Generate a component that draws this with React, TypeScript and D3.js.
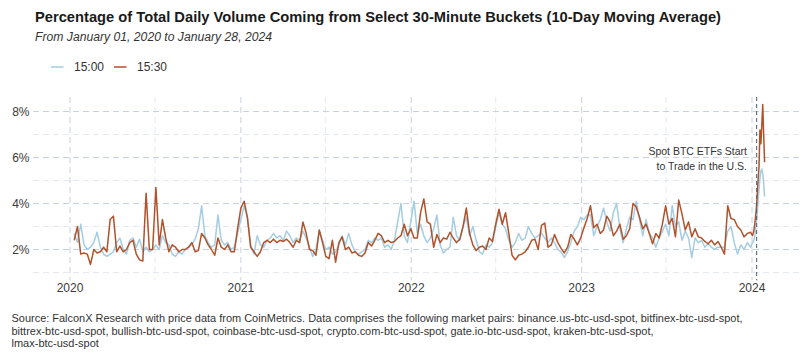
import { useRef, useEffect } from "react";
import * as d3 from "d3";

// weekly samples of the 10-day MA, starting 2020-01-10
const WEEK_START = "2020-01-10";
const WEEK_STEP = 7;

const share1500 = [
  2.7, 2.3, 3.1, 2.2, 2.0, 2.1, 2.3, 2.75, 2.1, 1.8, 1.7, 1.8, 1.9, 2.3, 2.5, 2.0, 1.8, 2.4, 2.5, 2.1, 2.45, 1.9, 2.1, 1.9, 2.0, 2.2, 2.0, 2.6, 2.3, 2.2, 1.8, 1.7, 1.9, 1.8, 2.0, 2.1,
  2.2, 2.45, 2.9, 3.9, 2.6, 2.3, 2.1, 2.2, 3.5, 2.4, 2.2, 2.3, 2.0, 2.1, 2.7, 3.3, 3.9, 3.4, 2.2, 1.8, 2.6, 2.2, 2.1, 2.4, 2.5, 2.7, 2.5, 2.6, 2.4, 2.8, 2.6, 2.3, 2.5, 2.4, 2.8,
  2.5, 2.1, 1.7, 2.0, 2.8, 2.4, 2.0, 2.1, 1.8, 1.9, 2.2, 2.6, 2.2, 2.7, 2.2, 1.9, 1.8, 1.9, 2.0, 2.4, 2.3, 2.5, 2.4, 2.5, 2.1, 2.2, 2.0, 2.4, 3.2, 4.0, 2.6, 2.3, 3.2, 4.1, 2.7,
  3.1, 2.6, 2.3, 2.5, 2.9, 3.5, 2.2, 1.85, 2.0, 2.1, 3.4, 2.6, 2.4, 3.0, 3.4, 2.6, 3.0, 2.4, 1.9, 1.8, 2.2, 2.1, 2.3, 3.0, 3.6, 3.1, 2.9, 2.4, 2.1, 2.3, 2.7, 2.4, 2.5, 3.0, 2.7, 2.5,
  2.6, 2.7, 2.5, 2.3, 2.5, 2.3, 2.0, 1.9, 1.65, 1.9, 2.3, 2.8, 3.0, 3.4, 3.3, 3.5, 3.5, 2.6, 3.0, 3.3, 3.8, 3.2, 2.8, 3.6, 4.0, 2.9, 2.3, 2.9, 3.4, 3.3, 4.1, 3.3, 2.6,
  3.3, 2.7, 2.5, 2.1, 2.5, 2.8, 3.1, 2.6, 3.9, 3.0, 3.2, 2.4, 2.8, 2.5, 1.65, 2.5, 2.3, 2.4, 2.1, 2.25, 2.1, 2.0, 2.1, 2.1, 2.1, 2.8, 3.0, 2.3, 1.8, 2.2, 2.0, 2.3, 2.1,
];

const share1530 = [
  2.4, 3.0, 1.8, 1.85, 1.8, 1.35, 2.0, 1.85, 1.9, 2.1, 1.9, 3.3, 3.45, 1.9, 2.15, 1.9, 2.0, 2.3, 2.4, 1.8, 1.55, 1.5, 4.45, 2.0, 2.0, 4.7, 2.2, 3.3, 2.5, 1.9, 2.2, 2.1, 1.9, 2.0, 2.0, 2.1,
  2.3, 1.9, 1.95, 2.7, 2.5, 2.2, 2.0, 1.75, 2.5, 2.1, 2.0, 2.2, 1.9, 1.9, 2.9, 3.8, 4.1, 3.4, 2.1, 1.9, 1.7, 1.9, 2.3, 2.4, 2.3, 2.45, 2.3, 2.4, 2.35, 2.45, 2.3, 2.1, 2.4, 2.3, 3.2,
  2.7, 2.0, 1.95, 1.75, 2.85, 2.3, 1.7, 1.6, 2.4, 1.45, 2.3, 2.55, 2.0, 2.1, 1.85, 1.9, 1.75, 1.7, 1.85, 2.3, 2.15, 2.4, 2.7, 2.6, 2.3, 2.4, 2.3, 2.35, 2.5, 2.6, 3.1, 2.6, 2.9, 2.5, 2.5,
  3.6, 4.2, 3.2, 3.1, 2.1, 2.65, 2.3, 2.5, 2.45, 2.75, 2.5, 2.3, 2.45, 3.0, 3.8, 2.7, 2.2, 1.95, 2.1, 2.15, 2.0, 2.5, 2.35, 3.1, 3.75, 3.1, 3.6, 2.7, 1.75, 1.55, 1.75, 1.8, 1.9, 2.1, 2.4, 2.45,
  2.0, 3.05, 3.15, 2.1, 2.2, 2.65, 2.3, 2.05, 1.85, 2.1, 2.65, 2.45, 2.2, 2.5, 2.95, 3.35, 3.9, 2.95, 3.1, 2.7, 2.85, 3.45, 3.2, 2.6, 2.8, 3.1, 2.45, 2.6, 2.9, 4.0, 3.85, 3.4, 2.9,
  3.1, 2.7, 2.25, 2.7, 2.5, 3.1, 3.9, 3.1, 3.35, 2.55, 4.15, 3.55, 2.85, 3.2, 2.55, 2.9, 2.55, 2.5, 2.35, 2.25, 2.4, 2.2, 2.35, 2.1, 1.8, 3.9, 3.35, 3.3, 3.0, 2.85, 2.55, 2.7, 2.75,
];

// January 2024, sampled more closely around the ETF launch
const janDays = ["2024-01-02", "2024-01-05", "2024-01-08", "2024-01-10", "2024-01-12", "2024-01-14", "2024-01-16", "2024-01-18", "2024-01-20", "2024-01-22", "2024-01-24", "2024-01-26", "2024-01-28"];
const jan1500 = [2.3, 2.4, 2.7, 3.1, 3.5, 4.1, 4.6, 5.1, 5.4, 5.5, 5.3, 4.9, 4.3];
const jan1530 = [2.6, 2.8, 3.3, 3.7, 4.3, 5.0, 5.6, 7.2, 6.6, 7.4, 8.3, 7.0, 5.8];

const yearTicks = ["2020", "2021", "2022", "2023", "2024"];
const midYears = ["2020-07-01", "2021-07-01", "2022-07-01", "2023-07-01"];
const pctTicks = [2, 4, 6, 8];
const minorPct = [1, 3, 5, 7];
const etfDate = "2024-01-11";
const etfNote = ["Spot BTC ETFs Start", "to Trade in the U.S."];
const seriesNames = ["15:00", "15:30"];
const colors = ["#a5cde2", "#b0522b"];

const title = "Percentage of Total Daily Volume Coming from Select 30-Minute Buckets (10-Day Moving Average)";
const subtitle = "From January 01, 2020 to January 28, 2024";
const sourceLines = [
  "Source: FalconX Research with price data from CoinMetrics. Data comprises the following market pairs: binance.us-btc-usd-spot, bitfinex-btc-usd-spot,",
  "bittrex-btc-usd-spot, bullish-btc-usd-spot, coinbase-btc-usd-spot, crypto.com-btc-usd-spot, gate.io-btc-usd-spot, kraken-btc-usd-spot,",
  "lmax-btc-usd-spot",
];

const FONT = "'Liberation Sans', Arial, sans-serif";
const utc = (s: string) => new Date(s + "T00:00:00Z");

interface Pt { d: Date; v: number; }
const buildSeries = (weekly: number[], janVals: number[]): Pt[] => [
  ...weekly.map((v, i) => ({ d: d3.utcDay.offset(utc(WEEK_START), i * WEEK_STEP), v })),
  ...janDays.map((d, i) => ({ d: utc(d), v: janVals[i] })),
];

export default function App() {
  const ref = useRef<SVGSVGElement>(null);

  useEffect(() => {
    if (!ref.current) return;
    const svg = d3.select(ref.current); svg.selectAll("*").remove();
    const x = d3.scaleUtc().domain([utc("2020-01-01"), utc("2024-01-01")]).range([70, 752]);
    const y = d3.scaleLinear().domain([2, 8]).range([249.5, 111.5]);
    const left = 33, right = 800, top = y(8.63), bottom = y(0.66);

    const grid = svg.append("g").attr("fill", "none");
    minorPct.forEach(p => grid.append("line").attr("x1", left).attr("x2", right).attr("y1", y(p)).attr("y2", y(p))
      .attr("stroke", "#e4e9f0").attr("stroke-dasharray", "6,4"));
    midYears.forEach(m => grid.append("line").attr("x1", x(utc(m))).attr("x2", x(utc(m))).attr("y1", top).attr("y2", bottom)
      .attr("stroke", "#e4e9f0").attr("stroke-dasharray", "6,4"));
    pctTicks.forEach(p => grid.append("line").attr("x1", left).attr("x2", right).attr("y1", y(p)).attr("y2", y(p))
      .attr("stroke", "#c8d2de").attr("stroke-dasharray", "6,4"));
    yearTicks.forEach(t => grid.append("line").attr("x1", x(utc(t + "-01-01"))).attr("x2", x(utc(t + "-01-01"))).attr("y1", top).attr("y2", bottom)
      .attr("stroke", "#c8d2de").attr("stroke-dasharray", "6,4"));

    svg.selectAll(".yl").data(pctTicks).join("text").attr("x", 29.5).attr("y", d => y(d) + 4.3)
      .attr("text-anchor", "end").attr("fill", "#3a3a3a").attr("font-size", "12px").attr("font-family", FONT).text(d => d + "%");
    svg.selectAll(".xl").data(yearTicks).join("text").attr("x", d => x(utc(d + "-01-01"))).attr("y", 292)
      .attr("text-anchor", "middle").attr("fill", "#3a3a3a").attr("font-size", "12px").attr("font-family", FONT).text(d => d);

    const line = d3.line<Pt>().x(d => x(d.d)).y(d => y(d.v));
    [buildSeries(share1500, jan1500), buildSeries(share1530, jan1530)].forEach((s, i) => {
      svg.append("path").datum(s).attr("fill", "none").attr("stroke", colors[i]).attr("stroke-width", 1.5)
        .attr("stroke-linejoin", "round").attr("d", line);
    });

    const ex = x(utc(etfDate));
    svg.append("line").attr("x1", ex).attr("x2", ex).attr("y1", top).attr("y2", bottom)
      .attr("stroke", "#4b5b70").attr("stroke-width", 1).attr("stroke-dasharray", "4,3");
    etfNote.forEach((t, i) => svg.append("text").attr("x", 747).attr("y", 154.5 + i * 15.5).attr("text-anchor", "end")
      .attr("fill", "#333").attr("font-size", "10.5px").attr("font-family", FONT).text(t));

    svg.append("text").attr("x", 35).attr("y", 22).attr("font-size", "15px").attr("font-weight", "bold")
      .attr("fill", "#1a1a1a").attr("font-family", FONT).attr("textLength", 686).attr("lengthAdjust", "spacingAndGlyphs").text(title);
    svg.append("text").attr("x", 35).attr("y", 41).attr("font-size", "12px").attr("font-style", "italic")
      .attr("fill", "#333").attr("font-family", FONT).attr("textLength", 237).attr("lengthAdjust", "spacingAndGlyphs").text(subtitle);

    [{ x1: 51, tx: 74 }, { x1: 114, tx: 137 }].forEach((l, i) => {
      svg.append("line").attr("x1", l.x1).attr("x2", l.x1 + 12.5).attr("y1", 67).attr("y2", 67).attr("stroke", colors[i]).attr("stroke-width", 1.5);
      svg.append("text").attr("x", l.tx).attr("y", 71.2).attr("fill", "#333").attr("font-size", "12px").attr("font-family", FONT).text(seriesNames[i]);
    });

    const lens = [731, 642, null];
    sourceLines.forEach((t, i) => {
      const el = svg.append("text").attr("x", 11.5).attr("y", 322 + i * 12.5).attr("fill", "#333").attr("font-size", "11px").attr("font-family", FONT).text(t);
      if (lens[i]) el.attr("textLength", lens[i]!).attr("lengthAdjust", "spacingAndGlyphs");
    });
  }, []);

  return <svg ref={ref} width={811} height={360} style={{ position: "absolute", left: 0, top: 0, background: "#fff" }} />;
}
